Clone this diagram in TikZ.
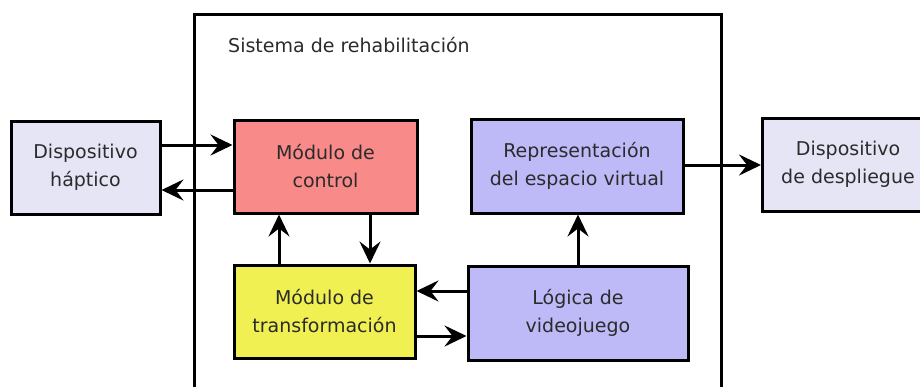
\documentclass[tikz,border=0pt]{standalone}
\usepackage{fontspec}
\setmainfont{DejaVu Sans}
\usetikzlibrary{arrows.meta}
\definecolor{ctrlred}{HTML}{F98A8A}
\definecolor{transyel}{HTML}{F0F052}
\definecolor{lav}{HTML}{BEB9F7}
\definecolor{pale}{HTML}{E5E5F6}
\definecolor{txt}{HTML}{2B2B2B}
\begin{document}
\begin{tikzpicture}[x=1pt,y=-1pt,
  box/.style={draw=black,line width=3pt,inner sep=0pt,align=center,text=txt,
    font=\fontsize{19}{28}\selectfont},
  arr/.style={line width=3pt,-{Stealth[length=22pt,width=21pt,inset=8pt]}},
]
\useasboundingbox (0,0) rectangle (920,386);
\clip (0,0) rectangle (920,386);
\fill[white] (0,0) rectangle (920,386);
% system frame
\draw[line width=3pt] (194,14) rectangle (721,420);
\node[anchor=west,text=txt,font=\fontsize{19}{28}\selectfont,inner sep=0pt] (title) at (228,45) {Sistema de rehabilitación};
% boxes
\node[box,fill=pale,minimum width=149pt,minimum height=93pt] (hap) at (85.5,167.5) {Dispositivo\\háptico};
\node[box,fill=ctrlred,minimum width=183pt,minimum height=93pt] (ctrl) at (325.5,166.5) {Módulo de\\control};
\node[box,fill=transyel,minimum width=181pt,minimum height=93pt] (trans) at (324.5,311.5) {Módulo de\\transformación};
\node[box,fill=lav,minimum width=212pt,minimum height=94pt] (rep) at (577,166) {Representación\\del espacio virtual};
\node[box,fill=lav,minimum width=220pt,minimum height=94pt] (log) at (578,313) {Lógica de\\videojuego};
\node[box,fill=pale,minimum width=171pt,minimum height=93pt,anchor=west] (desp) at (761,164.5) {Dispositivo\\de despliegue};
% arrows
\draw[arr] (hap.east|-0,145) -- (ctrl.west|-0,145);
\draw[arr] (ctrl.west|-0,190) -- (hap.east|-0,190);
\draw[arr] (370,0|-ctrl.south) -- (370,0|-trans.north);
\draw[arr] (279,0|-trans.north) -- (279,0|-ctrl.south);
\draw[arr] (log.west|-0,291) -- (trans.east|-0,291);
\draw[arr] (trans.east|-0,336) -- (log.west|-0,336);
\draw[arr] (578,0|-log.north) -- (578,0|-rep.south);
\draw[arr] (rep.east|-0,165) -- (desp.west|-0,165);
\end{tikzpicture}
\end{document}
